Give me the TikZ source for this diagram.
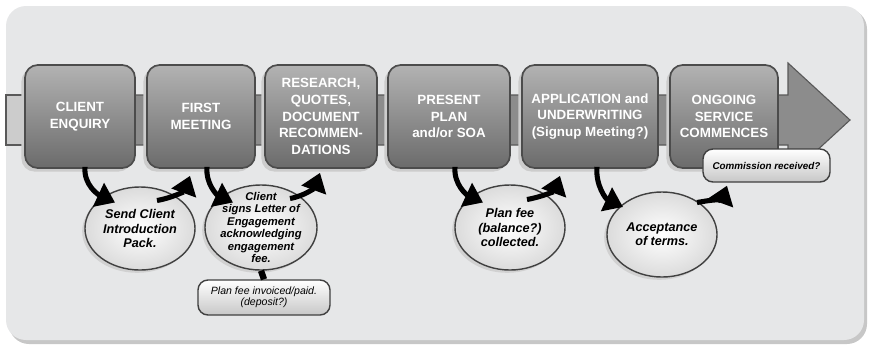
\documentclass[tikz,border=0pt]{standalone}
\usepackage{fontspec}
\setmainfont{Liberation Sans}
\usetikzlibrary{shapes.geometric,arrows.meta,shadows,calc}
\definecolor{panel}{RGB}{230,231,232}
\begin{document}
\begin{tikzpicture}[x=0.025cm, y=0.025cm,
		stage/.style={
			rectangle, rounded corners=3.2mm, draw=black!70, line width=1.2pt,
			top color=black!30, bottom color=black!58, text=white, align=center,
			font=\fontsize{9.5}{11.8}\selectfont\bfseries,
			minimum height=2.575cm, inner sep=0pt,
			general shadow={fill=black!20, shadow xshift=-2.5pt, shadow yshift=-2.5pt}
		},
		bubble/.style={
			ellipse, draw=black!75, line width=1pt, inner color=white, outer color=black!14,
			align=center, font=\fontsize{9}{10}\selectfont\bfseries\itshape, inner sep=-6pt,
			general shadow={fill=black!18, shadow xshift=-2pt, shadow yshift=-2pt}
		},
		tag/.style={
			rectangle, rounded corners=2.5mm, draw=black!75, line width=1pt,
			top color=white, bottom color=black!22, align=center, inner sep=0pt
		},
		swoop/.style={line width=3.6pt, -{Triangle[width=18pt,length=13pt]}}
	]
		\useasboundingbox (0,0) rectangle (869,-345);
		\fill[black!22, rounded corners=5mm] (9,-9) rectangle (867,-344);
		\fill[panel, rounded corners=5mm] (6,-6) rectangle (864,-340);

		\draw[fill=black!45, draw=black!65, line width=0.8pt]
			(6,-95) -- (788,-95) -- (788,-63) -- (850,-120) -- (788,-177) -- (788,-145) -- (6,-145) -- cycle;
		\draw[fill=black!20, draw=black!65, line width=0.8pt] (6,-95) rectangle (25,-145);

		\node[stage, minimum width=2.75cm] (enq) at (80,-116.5) {CLIENT\\ENQUIRY};
		\node[stage, minimum width=2.7cm] (meet) at (201,-116.5) {FIRST\\MEETING};
		\node[stage, minimum width=2.8cm] (res) at (321,-116.5) {RESEARCH,\\QUOTES,\\DOCUMENT\\RECOMMEN-\\DATIONS};
		\node[stage, minimum width=3.05cm] (plan) at (449,-116.5) {PRESENT\\PLAN\\and/or SOA};
		\node[stage, minimum width=3.4cm] (app) at (590,-116.5) {APPLICATION and\\UNDERWRITING\\(Signup Meeting?)};
		\node[stage, minimum width=2.7cm] (ong) at (724,-116.5) {ONGOING\\SERVICE\\COMMENCES};

		\node[bubble, minimum width=2.75cm, minimum height=2.075cm] (pack) at (140,-228.5) {Send Client\\Introduction\\Pack.};
		\node[bubble, minimum width=2.8cm, minimum height=2.125cm, font=\fontsize{8}{8.8}\selectfont\bfseries\itshape] (sign) at (261,-227.5) {Client\\signs Letter of\\Engagement\\acknowledging\\engagement\\fee.};
		\node[bubble, minimum width=2.75cm, minimum height=2.125cm] (bal) at (510,-227.5) {Plan fee\\(balance?)\\collected.};
		\node[bubble, minimum width=2.75cm, minimum height=2.125cm] (acc) at (662,-234.5) {Acceptance\\of terms.};

		\node[tag, minimum width=3.3cm, minimum height=0.875cm, font=\fontsize{7.5}{7.8}\selectfont\itshape] (inv) at (264,-297.5) {Plan fee invoiced/paid.\\(deposit?)};
		\node[tag, minimum width=3.175cm, minimum height=0.825cm, font=\fontsize{7}{8}\selectfont\bfseries\itshape] (com) at (766.5,-165.5) {Commission received?};

		\draw[line width=4.5pt] (sign.south) -- (inv.north);

		\draw[swoop] ($(enq.south)+(5,2)$) to[out=-95, in=155] ($(pack.center)+(-25,26)$);
		\draw[swoop] ($(pack.center)+(17,28)$) to[out=10, in=-110] ($(meet.south)+(-11,-7)$);
		\draw[swoop] ($(meet.south)+(6,2)$) to[out=-95, in=155] ($(sign.center)+(-28,25)$);
		\draw[swoop] ($(sign.center)+(29,29)$) to[out=10, in=-110] ($(res.south)+(-1,-4)$);
		\draw[swoop] ($(plan.south)+(6,2)$) to[out=-95, in=155] ($(bal.center)+(-27,25)$);
		\draw[swoop] ($(bal.center)+(17,28)$) to[out=10, in=-110] ($(app.south)+(-30,-7)$);
		\draw[swoop] ($(app.south)+(7,2)$) to[out=-95, in=155] ($(acc.center)+(-39,27.5)$);
		\draw[swoop] ($(acc.center)+(35,32)$) to[out=10, in=-110] ($(com.south)+(-39.5,-3)$);
	\end{tikzpicture}
\end{document}
